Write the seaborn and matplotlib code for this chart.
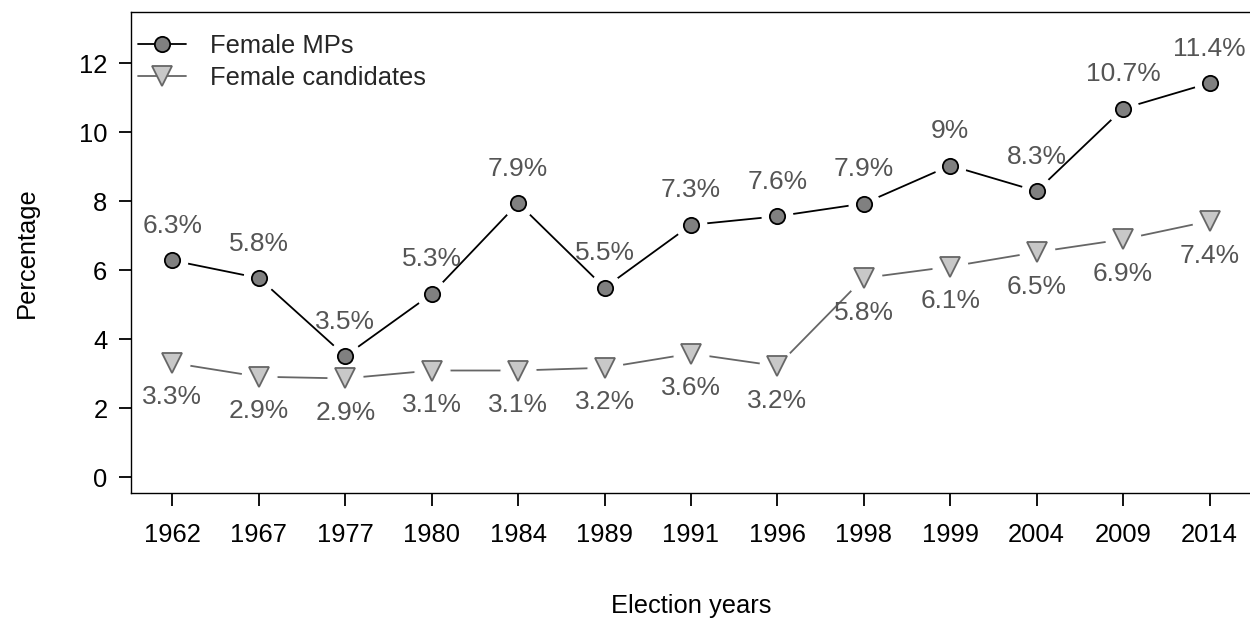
import numpy as np
import pandas as pd
import matplotlib.pyplot as plt
from matplotlib.lines import Line2D
import seaborn as sns

# election years and shares (percent)
years = ["1962", "1967", "1977", "1980", "1984", "1989", "1991",
         "1996", "1998", "1999", "2004", "2009", "2014"]
female_mps = [6.28, 5.77, 3.51, 5.31, 7.94, 5.49, 7.31,
              7.56, 7.93, 9.03, 8.29, 10.68, 11.42]
female_cands = [3.31, 2.91, 2.86, 3.09, 3.09, 3.17, 3.58,
                3.22, 5.77, 6.10, 6.52, 6.89, 7.42]

df = pd.DataFrame({"idx": np.arange(len(years)), "year": years,
                   "mps": female_mps, "cands": female_cands})

sns.set_theme(style="white")
plt.rcParams["font.family"] = ["Liberation Sans", "DejaVu Sans"]

FS = 18.4

fig = plt.figure(figsize=(12.5, 6.18), dpi=100)
ax = fig.add_axes([131 / 1250, 1 - 493 / 618, 1120 / 1250, (493 - 12) / 618])

mp_style = dict(marker="o", markersize=11, markerfacecolor="#808080",
                markeredgecolor="black", markeredgewidth=1.3)
cand_style = dict(marker="v", markersize=14.5, markerfacecolor="#c8c8c8",
                  markeredgecolor="#666666", markeredgewidth=1.3)

# lines first, then white halos to mimic R type="b" gaps, then markers
sns.lineplot(data=df, x="idx", y="mps", color="black", lw=1.3, ax=ax, zorder=1)
sns.lineplot(data=df, x="idx", y="cands", color="#666666", lw=1.3, ax=ax, zorder=1)
for col, sz in [("mps", 22), ("cands", 25)]:
    ax.plot(df["idx"], df[col], ls="", marker="o", markersize=sz,
            markerfacecolor="white", markeredgecolor="white", zorder=2)
ax.plot(df["idx"], df["mps"], ls="", zorder=3, **mp_style)
ax.plot(df["idx"], df["cands"], ls="", zorder=3, **cand_style)

def fmt(v):
    return f"{round(v, 1):g}%"

for i, v in enumerate(female_mps):
    ax.text(i, v + 1.0, fmt(v), ha="center", va="center",
            fontsize=19, color="#555555", zorder=4)
for i, v in enumerate(female_cands):
    ax.text(i, v - 1.0, fmt(v), ha="center", va="center",
            fontsize=19, color="#555555", zorder=4)

ax.set_xlim(-0.48, 12.48)
ax.set_ylim(-0.46, 13.48)
ax.set_xticks(df["idx"])
ax.set_xticklabels(years)
ax.set_yticks(range(0, 13, 2))
ax.tick_params(axis="both", labelsize=FS, colors="black", length=9, width=1.3,
               direction="out", left=True, bottom=True)
ax.tick_params(axis="x", pad=12.5)
ax.tick_params(axis="y", pad=8)
ax.set_xlabel("Election years", fontsize=FS, labelpad=34, color="black")
ax.set_ylabel("Percentage", fontsize=FS, labelpad=29, color="black")

for s in ax.spines.values():
    s.set_visible(True)
    s.set_color("black")
    s.set_linewidth(1.0)

handles = [
    Line2D([], [], color="black", lw=1.3, **mp_style),
    Line2D([], [], color="#666666", lw=1.3, **cand_style),
]
ax.legend(handles, ["Female MPs", "Female candidates"], loc="upper left",
          bbox_to_anchor=(0.002, 0.965), frameon=False, fontsize=FS,
          handlelength=1.85, handletextpad=0.95, labelspacing=0.3,
          borderpad=0.2, borderaxespad=0)

fig.savefig("out.png", dpi=100)
